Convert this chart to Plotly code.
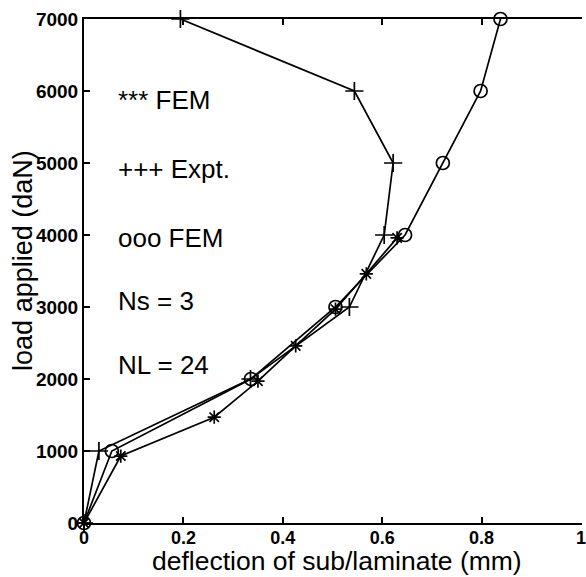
import plotly.graph_objects as go

# Load steps (daN)
load_fem_circle = [0, 1000, 2000, 3000, 4000, 5000, 6000, 7000]
load_expt = [0, 1000, 2000, 3000, 4000, 5000, 6000, 7000]
load_fem_star = [0, 930, 1470, 1970, 2460, 2970, 3460, 3960]

# Deflection of sub/laminate (mm)
defl_fem_star = [0, 0.074, 0.262, 0.350, 0.426, 0.506, 0.568, 0.630]
defl_expt = [0, 0.030, 0.335, 0.534, 0.604, 0.622, 0.544, 0.194]
defl_fem_circle = [0, 0.056, 0.336, 0.506, 0.646, 0.722, 0.798, 0.838]

legend_lines = ["*** FEM", "+++ Expt.", "ooo FEM", "Ns = 3", "NL = 24"]
legend_y = [5875, 4920, 3960, 3080, 2200]

x_ticks = [0, 0.2, 0.4, 0.6, 0.8, 1]
x_tick_text = ["0", "0.2", "0.4", "0.6", "0.8", "1"]
y_ticks = [0, 1000, 2000, 3000, 4000, 5000, 6000, 7000]

FONT = "Liberation Sans, Arial, Helvetica, sans-serif"
LINE_W = 1.7

fig = go.Figure()

series = [
    (defl_fem_star, load_fem_star, "asterisk-open", 11),
    (defl_expt, load_expt, "cross-thin-open", 13),
    (defl_fem_circle, load_fem_circle, "circle-open", 13),
]
for xs, ys, sym, size in series:
    fig.add_trace(go.Scatter(
        x=xs, y=ys, mode="lines+markers",
        line=dict(color="black", width=LINE_W),
        marker=dict(symbol=sym, size=size, color="black",
                    line=dict(color="black", width=LINE_W)),
        cliponaxis=False, showlegend=False,
    ))

for txt, yv in zip(legend_lines, legend_y):
    fig.add_annotation(
        x=0.065, y=yv, xref="x", yref="y", text=txt, showarrow=False,
        xanchor="left", yanchor="middle",
        font=dict(family=FONT, size=26, color="black"),
    )

# axis titles placed as free text
fig.add_annotation(
    x=0, y=0.52, xref="paper", yref="paper", xshift=-61,
    text="load applied (daN)", textangle=-90, showarrow=False,
    xanchor="center", yanchor="middle",
    font=dict(family=FONT, size=27, color="black"),
)
fig.add_annotation(
    x=0.5, y=0, xref="paper", yref="paper", xshift=4, yshift=-55,
    text="deflection of sub/laminate (mm)", showarrow=False,
    xanchor="center", yanchor="bottom",
    font=dict(family=FONT, size=26.5, color="black"),
)

tick_font = dict(family=FONT, size=18, color="black", weight="bold")

fig.update_xaxes(
    range=[0, 1.002], tickvals=x_ticks, ticktext=x_tick_text,
    showline=True, linecolor="black", linewidth=2, mirror="allticks",
    ticks="inside", ticklen=6, tickwidth=1.5, tickcolor="black",
    showgrid=False, zeroline=False, tickfont=tick_font,
    ticklabeloverflow="allow", ticklabelstandoff=-3,
)
fig.update_yaxes(
    range=[0, 7000], tickvals=y_ticks,
    showline=True, linecolor="black", linewidth=2, mirror=False,
    ticks="inside", ticklen=6, tickwidth=1.5, tickcolor="black",
    showgrid=False, zeroline=False,
    tickfont=dict(family=FONT, size=19, color="black", weight="bold"),
    ticklabeloverflow="allow",
)

fig.update_layout(
    width=586, height=577,
    margin=dict(l=84, r=0, t=19, b=54),
    plot_bgcolor="white", paper_bgcolor="white",
    font=dict(family=FONT, color="black"),
    # right-hand tick marks only (the frame edge lies at the page border)
    yaxis2=dict(
        range=[0, 7000], tickvals=y_ticks, overlaying="y", side="right",
        anchor="x", showline=False, showgrid=False, zeroline=False,
        ticks="inside", ticklen=5, tickwidth=1.5, tickcolor="black",
        showticklabels=False,
    ),
)

fig.write_html("out.html")
